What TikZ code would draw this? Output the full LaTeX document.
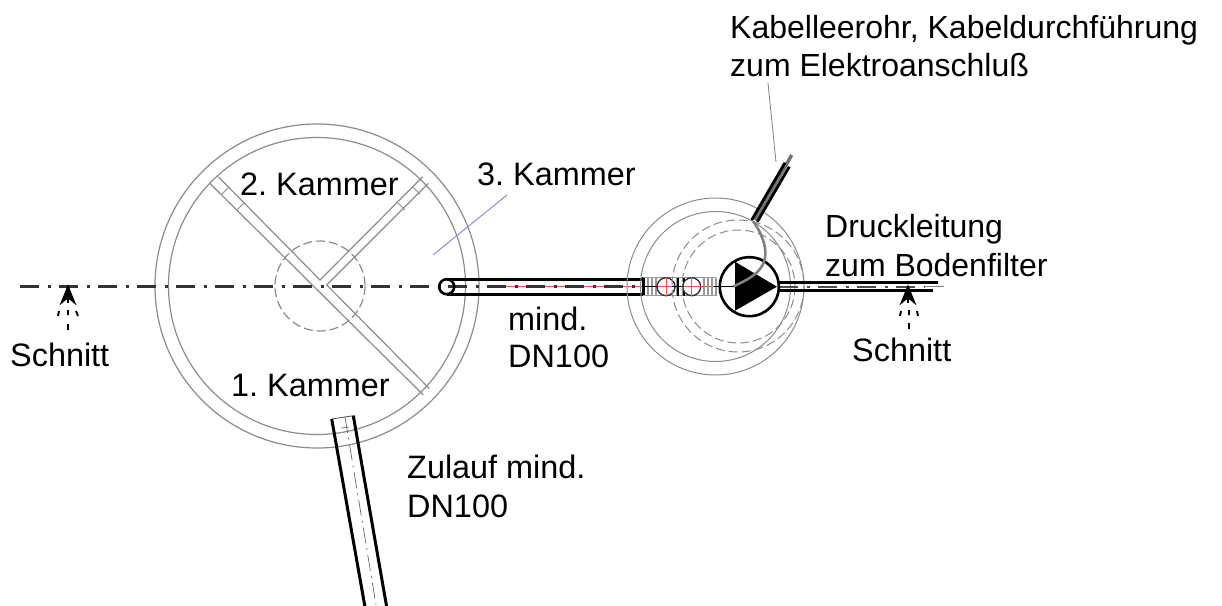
\documentclass[tikz,border=0pt]{standalone}
\usepackage{fontspec}
\setmainfont{Liberation Sans}
\definecolor{wall}{gray}{0.55}
\definecolor{leader}{RGB}{140,140,225}
\frenchspacing
\tikzset{
 lbl/.style={anchor=base west,inner sep=0pt,font=\fontsize{32.4}{36}\selectfont,text=black},
 lblsmall/.style={lbl,font=\fontsize{32}{36}\selectfont},
 wallline/.style={draw=wall,line width=1.2pt},
 dashcirc/.style={draw=wall,line width=1.2pt,dash pattern=on 9pt off 4pt},
 axis/.style={draw=black!80,line width=2.4pt,dash pattern=on 19pt off 8.5pt on 3pt off 8.5pt},
 axisred/.style={draw=red!70,line width=.8pt},
 pipe/.style={draw=black,line width=3pt},
 thinaxis/.style={draw=black!60,line width=.7pt,dash pattern=on 16pt off 5pt on 2pt off 5pt},
 gray tick/.style={draw=black!40,line width=1.6pt},
 cut/.style={draw=black,line width=2pt},
}
\begin{document}
\begin{tikzpicture}[x=1pt,y=-1pt]
\useasboundingbox (0,0) rectangle (1222,605);
\fill[white] (0,0) rectangle (1222,605);
\draw[wallline] (317,286) circle[radius=162];
\draw[wallline] (317,286) circle[radius=148.5];
\draw[dashcirc] (320,286) circle[radius=45];
% walls
\draw[wallline] (210,183.5) -- (423.3,395);
\draw[wallline] (218.3,176.7) -- (320,280) -- (422.7,176.7);
\draw[wallline] (428.3,183.5) -- (326.7,285) -- (429.3,388.5);
\draw[draw=black!45,line width=.9pt] (222,194) -- (229,187) (237,210) -- (244,203);
\draw[draw=black!45,line width=.9pt] (398,203) -- (405,210) (413,187) -- (420,194);
% centre line, left
\draw[axis] (20,286.5) -- (445,286.5);
% pipe to pump chamber
\draw[axisred] (505,286.5) -- (720,286.5);
\draw[axis] (448,286.5) -- (643,286.5);
\draw[pipe] (446.7,279) -- (643,279) (446.7,294.5) -- (643,294.5);
\draw[pipe] (643,277) -- (643,295.5);
\draw[draw=black,line width=2.6pt] (446.7,286.7) circle[radius=7.5];
% fittings
\foreach \px in {648,652,656,677,704,708,712,716}{\draw[gray tick] (\px,277.5) -- (\px,295.5);}
\draw[gray tick,line width=1.2pt] (643,277.5) -- (716,277.5) (643,295.5) -- (716,295.5);
\draw[draw=black,line width=1.6pt] (678,277.5) -- (678,295.5) (684,277.5) -- (684,295.5);
\draw[draw=black!80,line width=1.4pt,fill=white] (666,286.7) circle[radius=9];
\draw[draw=black!80,line width=1.4pt,fill=white] (691.7,286.7) circle[radius=9];
\draw[axisred] (656,286.7) -- (705,286.7) (666,277) -- (666,296) (691.7,277) -- (691.7,296);
\draw[draw=black,line width=1.4pt] (643,286.7) -- (658,286.7) (672,286.7) -- (684,286.7) (714,286.7) -- (732,286.7);
% pump chamber
\draw[wallline,line width=1pt] (715.5,286.5) circle[radius=88.5];
\draw[wallline,line width=1pt] (715.5,286.5) circle[radius=75];
\draw[dashcirc,line width=1pt] (738,286) circle[radius=66];
\draw[dashcirc,line width=1pt] (738.5,286.5) circle[radius=56.5];
% pressure line
\draw[pipe] (777,282.8) -- (938,282.8) (777,290.5) -- (933,290.5);
\draw[draw=black!70,line width=2pt,dash pattern=on 19pt off 8.5pt on 3pt off 8.5pt] (779,286.7) -- (925,286.7);
\draw[draw=black!50,line width=.7pt] (925,286.7) -- (944,286.7);
% pump
\draw[draw=black,line width=2.6pt,fill=white] (749.3,286.7) circle[radius=29.5];
\fill[black] (735,261.7) -- (735,310.7) -- (777,286.7) -- cycle;
\draw[draw=black,line width=1.4pt] (714,286.7) -- (735,286.7);
% cable
\draw[draw=black!55,line width=3.5pt] (755,220) -- (791.7,155);
\draw[draw=black,line width=2.8pt] (751.7,220) -- (785,162.7);
\draw[draw=black,line width=2.8pt] (757.3,221.7) -- (789.3,166.7);
\draw[draw=black!50,line width=2.6pt] (753.5,221.7) .. controls (768,243) and (770,262) .. (755,274) .. controls (748,280) and (740,283) .. (733,286.7);
% leader lines
\coordinate (lead1) at (768,83);
\coordinate (lead2) at (776,162);
\draw[draw=black!50,line width=.8pt] (lead1) -- (lead2);
\coordinate (lead3) at (507,195);
\coordinate (lead4) at (433,255);
\draw[draw=leader,line width=1pt] (lead3) -- (lead4);
% inlet
\draw[pipe] (331.7,419) -- (365,607) (353.3,415.7) -- (386.7,607);
\draw[draw=black!70,line width=.8pt] (331.7,419) -- (353.3,415.7);
\draw[thinaxis] (345,417) -- (376,605);
\draw[draw=black!55,line width=.7pt] (341,428) -- (349,427);
% section marks
\draw[cut] (68,288) -- (68,303);
\draw[cut,fill=black] (62,302) -- (68,287) -- (74,302) -- (68,297) -- cycle;
\draw[cut,line width=1.9pt] (59,311) -- (58,316) (68,310) -- (68,315) (76,311) -- (78,316) (68,324) -- (68,330);
\draw[cut] (908,288) -- (908,303);
\draw[cut,fill=black] (902,302) -- (908,287) -- (914,302) -- (908,297) -- cycle;
\draw[cut,line width=1.9pt] (901,311) -- (900,316) (909,310) -- (909,315) (917,311) -- (918,316) (909,323) -- (909,329);
% labels
\node[lblsmall] (kabel1) at (730,38) {Kabelleerohr, Kabeldurchführung};
\node[lblsmall] (kabel2) at (730,76) {zum Elektroanschluß};
\node[lbl] (k2) at (240,195) {2. Kammer};
\node[lbl] (k3) at (477,185) {3. Kammer};
\node[lbl] (k1) at (231,396) {1. Kammer};
\node[lblsmall] (druck1) at (825,237) {Druckleitung};
\node[lblsmall] (druck2) at (825,276) {zum Bodenfilter};
\node[lbl] (sl) at (10,366) {Schnitt};
\node[lbl] (sr) at (852,361) {Schnitt};
\node[lbl] (m1) at (508,330) {mind.};
\node[lbl] (m2) at (508,367) {DN100};
\node[lbl] (z1) at (407,478) {Zulauf mind.};
\node[lbl] (z2) at (407,517) {DN100};
\end{tikzpicture}
\end{document}
